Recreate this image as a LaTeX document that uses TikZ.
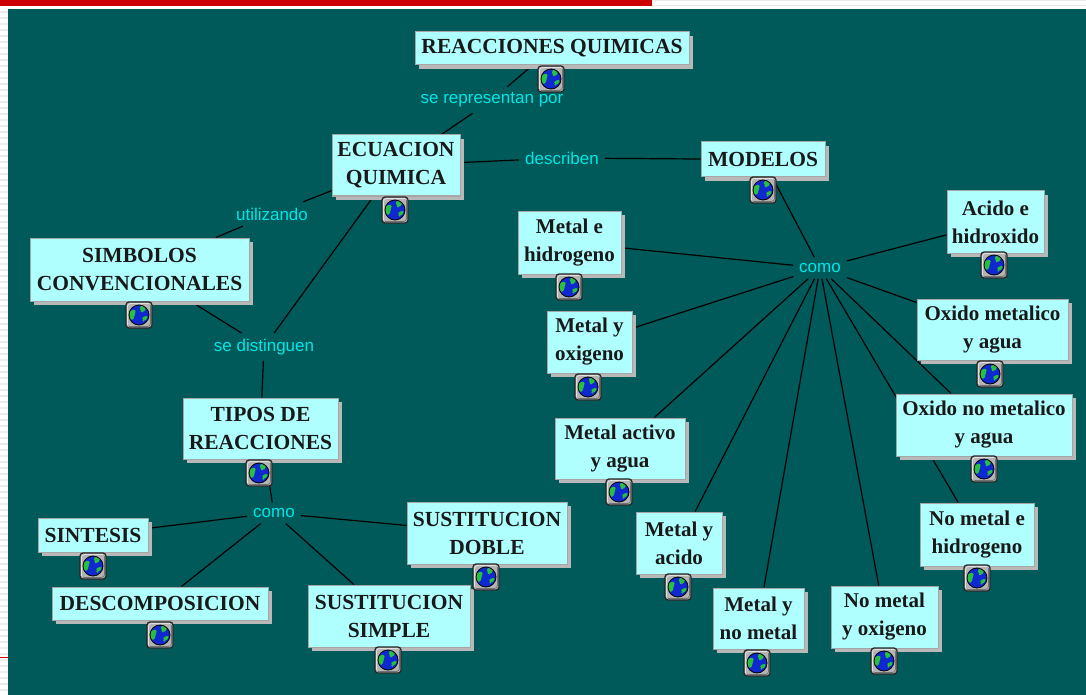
\documentclass[tikz,border=0pt]{standalone}
\usepackage{fontspec}
\setmainfont{Liberation Serif}
\newfontfamily\labfont{Liberation Sans}
\usetikzlibrary{shadows}
\definecolor{teal0}{HTML}{005A5A}
\definecolor{boxfill}{HTML}{AFFFFF}
\definecolor{labcol}{HTML}{00E6E6}
\definecolor{redbar}{HTML}{CC0000}
\definecolor{earth}{HTML}{1028D0}
\definecolor{land}{HTML}{28C040}
\definecolor{iconbg}{HTML}{B4B4B4}
\pgfdeclarelayer{canvas}\pgfdeclarelayer{edges}
\pgfsetlayers{canvas,edges,main}
\newcommand{\capsfont}{\fontsize{21.5}{28}\selectfont\bfseries}
\newcommand{\lowfont}{\fontsize{21}{28}\selectfont\bfseries}
\tikzset{
 x=1pt,y=-1pt,
 concept/.style={draw=black!35,line width=1pt,fill=boxfill,align=center,inner sep=0pt,
   font=\lowfont,text=black!90,
   drop shadow={shadow xshift=4pt,shadow yshift=-4pt,fill=black!28,opacity=1},
   minimum width=#1},
 concept/.default=100pt,
 linkword/.style={font=\labfont\fontsize{17}{20}\selectfont,text=labcol,inner sep=6pt,outer sep=0pt},
 conn/.style={draw=black,line width=1.2pt},
 globe/.style={draw=black!85,line width=1.2pt,fill=iconbg,rounded corners=3pt,minimum size=26pt,inner sep=0pt,
  path picture={
   \begin{scope}[shift={(path picture bounding box.center)}]
    \draw[black!12,line width=.8pt] (-11.5,10) -- (-11.5,-11.5) -- (10,-11.5);
    \draw[black!55,line width=.8pt] (11.5,-10) -- (11.5,11.5) -- (-10,11.5);
    \fill[earth] (0,0) circle[radius=10pt];
    \begin{scope}
     \clip (0,0) circle[radius=10pt];
     \fill[land] (-10,-4) -- (-3,-6) -- (-4,-1) -- (-6,6) -- (-10,3) -- cycle;
     \fill[land] (1,-10) -- (8,-7) -- (4,-2) -- (1,-4) -- cycle;
     \fill[land] (4,1) -- (10,1) -- (5,7) -- (3,5) -- cycle;
    \end{scope}
    \draw[black,line width=.8pt] (0,0) circle[radius=10pt];
   \end{scope}
  }},
}
\newcommand{\cpt}[6]{\node[concept=#4pt,minimum height=#5pt] (#1) at (#2,#3) {#6};}
\begin{document}
\begin{tikzpicture}
\useasboundingbox (0,0) rectangle (1086,695);
\begin{pgfonlayer}{canvas}
 \fill[white] (0,0) rectangle (1086,695);
 \foreach \yy in {11,17,...,693} \fill[black!8] (0,\yy) rectangle (8,\yy+2);
 \fill[black!8] (652,0) rectangle (1086,1);
 \fill[black!8] (652,5) rectangle (1086,6.5);
 \fill[redbar] (0,0) rectangle (652,6);
 \fill[redbar] (0,657) rectangle (8,658);
 \fill[teal0] (8,9) rectangle (1086,695);
\end{pgfonlayer}

\cpt{rq}{552}{48.5}{274}{33}{\capsfont REACCIONES QUIMICAS}
\cpt{eq}{396}{165.5}{128}{61}{\capsfont ECUACION\\\capsfont QUIMICA}
\cpt{mod}{763}{159.5}{124}{35}{\capsfont MODELOS}
\cpt{sim}{139.5}{269.5}{219}{63}{\capsfont SIMBOLOS\\\capsfont CONVENCIONALES}
\cpt{mh}{569.5}{242.5}{103}{63}{Metal e\\hidrogeno}
\cpt{ah}{995.5}{222}{97}{62}{Acido e\\hidroxido}
\cpt{mo}{589.5}{342}{85}{62}{Metal y\\oxigeno}
\cpt{oma}{992.5}{329.5}{151}{61}{Oxido metalico\\y agua}
\cpt{tip}{260.5}{428.5}{155}{61}{\capsfont TIPOS DE\\\capsfont REACCIONES}
\cpt{maa}{620}{448.5}{130}{61}{Metal activo\\y agua}
\cpt{ona}{984}{425}{176}{62}{Oxido no metalico\\y agua}
\cpt{sin}{93}{535}{110}{34}{\capsfont SINTESIS}
\cpt{des}{160}{603.5}{216}{33}{\capsfont DESCOMPOSICION}
\cpt{ss}{389}{616}{162}{62}{\capsfont SUSTITUCION\\\capsfont SIMPLE}
\cpt{sd}{487}{533}{160}{62}{\capsfont SUSTITUCION\\\capsfont DOBLE}
\cpt{mac}{679}{543}{86}{62}{Metal y\\acido}
\cpt{nmh}{977}{534.5}{114}{63}{No metal e\\hidrogeno}
\cpt{mnm}{758.5}{618.5}{91}{61}{Metal y\\no metal}
\cpt{nmo}{884.5}{617}{107}{62}{No metal\\y oxigeno}

\node[linkword] (l1) at (492,100) {se representan por};
\node[linkword] (l2) at (562,158) {describen};
\node[linkword] (l3) at (272,214) {utilizando};
\node[linkword] (l4) at (264,347) {se distinguen};
\node[linkword] (l5) at (274,513) {como};
\node[linkword] (l6) at (820,268) {como};

\begin{pgfonlayer}{edges}
 \foreach \a/\b in {rq/l1,l1/eq,eq/l2,l2/mod,eq/l3,l3/sim,eq/l4,sim/l4,l4/tip,tip/l5,l5/sin,l5/des,l5/ss,l5/sd,
   mod/l6,l6/mh,l6/ah,l6/mo,l6/oma,l6/maa,l6/ona,l6/mac,l6/nmh,l6/mnm,l6/nmo}
   \draw[conn] (\a) -- (\b);
\end{pgfonlayer}

\foreach \n/\x/\y in {rq/551/79,eq/395/210,mod/763/190,sim/139/315,mh/569/287,ah/994/265,mo/588/387,oma/990/374,tip/259/473,maa/619/492,ona/984/469,sin/93/566,des/160/635,ss/388/660,sd/486/577,mac/678/587,nmh/977/578,mnm/757/663,nmo/884/661}
  \node[globe] (g\n) at (\x,\y) {};
\end{tikzpicture}
\end{document}
